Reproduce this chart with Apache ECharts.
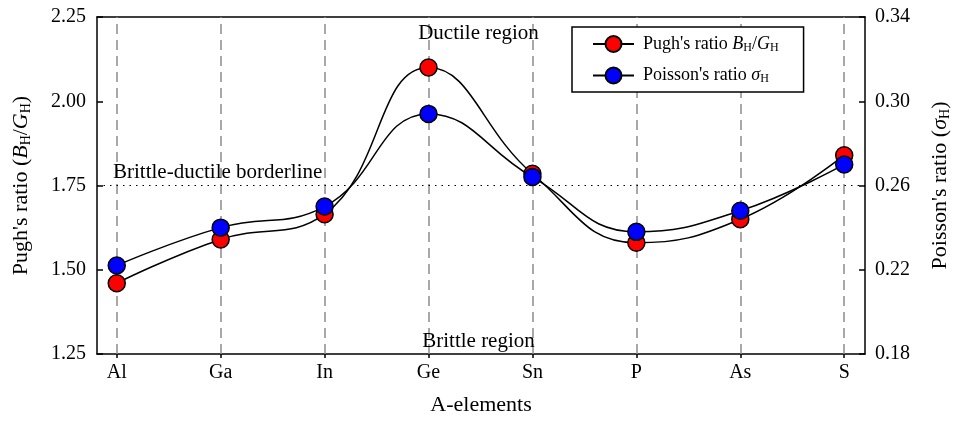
<!DOCTYPE html>
<html>
<head>
<meta charset="utf-8">
<script src="https://cdn.jsdelivr.net/npm/echarts@6/dist/echarts.min.js"></script>
<style>
  html, body { margin: 0; padding: 0; background: #fff; }
  #main { width: 957px; height: 428px; }
</style>
</head>
<body>
<div id="main"></div>
<script>
// A-elements along the x axis
var elements = ['Al', 'Ga', 'In', 'Ge', 'Sn', 'P', 'As', 'S'];
// Pugh's ratio B/G (left axis)
var pughRatio = [1.46, 1.59, 1.665, 2.10, 1.785, 1.58, 1.65, 1.84];
// Poisson's ratio (right axis)
var poissonRatio = [0.222, 0.240, 0.250, 0.294, 0.264, 0.238, 0.248, 0.270];
var borderline = 1.75;

var FONT = '"Liberation Serif", "DejaVu Serif", serif';
var chart = echarts.init(document.getElementById('main'));

function toPairs(arr) {
    return arr.map(function (v, i) { return [i, v]; });
}
var idx = elements.map(function (e, i) { return i; });

var legendRich = {
    i: { fontFamily: FONT, fontStyle: 'italic', fontSize: 18, color: '#000' },
    s: { fontFamily: FONT, fontSize: 12, color: '#000', padding: [7, 0, 0, 0] },
    n: { fontFamily: FONT, fontSize: 18, color: '#000' },
    f: { fontFamily: FONT, fontSize: 18, color: '#000', padding: [0, 0, 0, 4] }
};
var nameRich = {
    i: { fontFamily: FONT, fontStyle: 'italic', fontSize: 22, color: '#000' },
    s: { fontFamily: FONT, fontSize: 14, color: '#000', padding: [9, 0, 0, 0] },
    n: { fontFamily: FONT, fontSize: 22, color: '#000' }
};

var option = {
    animation: false,
    backgroundColor: '#fff',
    textStyle: { fontFamily: FONT },
    grid: { left: 97, right: 92, top: 17, bottom: 74, containLabel: false, outerBoundsMode: 'none' },
    legend: {
        left: 572, top: 27,
        orient: 'vertical',
        padding: [8, 25, 7, 20],
        itemWidth: 41, itemHeight: 20, itemGap: 13,
        backgroundColor: '#fff',
        borderColor: '#000', borderWidth: 1.5,
        textStyle: { rich: legendRich, fontFamily: FONT, fontSize: 18, color: '#000' },
        formatter: function (name) {
            if (name == 'pugh') return '{f|Pugh\'s ratio }{i|B}{s|H}{n|/}{i|G}{s|H}';
            return '{f|Poisson\'s ratio }{i|σ}{s|H}';
        },
        data: ['pugh', 'poisson']
    },
    xAxis: [{
        type: 'value',
        min: -0.19, max: 7.2,
        name: 'A-elements',
        nameLocation: 'middle', nameGap: 40,
        nameTextStyle: { fontFamily: FONT, fontSize: 22, color: '#000' },
        axisLine: { show: true, onZero: false, lineStyle: { color: '#000', width: 1.5 } },
        axisTick: { show: true, inside: false, length: 4, customValues: idx, lineStyle: { color: '#000', width: 1.5 } },
        axisLabel: {
            customValues: idx, margin: 9,
            fontFamily: FONT, fontSize: 20, color: '#000',
            formatter: function (v) { return elements[Math.round(v)]; }
        },
        splitLine: { show: false }
    }, {
        type: 'value', position: 'top',
        min: -0.19, max: 7.2,
        axisLine: { show: true, onZero: false, lineStyle: { color: '#000', width: 1.5 } },
        axisTick: { show: false }, axisLabel: { show: false }, splitLine: { show: false }
    }],
    yAxis: [{
        type: 'value', position: 'left',
        min: 1.25, max: 2.25, interval: 0.25,
        name: '{n|Pugh\'s ratio (}{i|B}{s|H}{n|/}{i|G}{s|H}{n|)}',
        nameLocation: 'middle', nameGap: 64,
        nameTextStyle: { rich: nameRich },
        axisLine: { show: true, onZero: false, lineStyle: { color: '#000', width: 1.5 } },
        axisTick: { show: true, inside: true, length: 6, lineStyle: { color: '#000', width: 1.5 } },
        axisLabel: {
            margin: 11, fontFamily: FONT, fontSize: 20, color: '#000',
            formatter: function (v) { return v.toFixed(2); }
        },
        splitLine: { show: false }
    }, {
        type: 'value', position: 'right',
        min: 0.18, max: 0.34, interval: 0.04,
        name: '{n|Poisson\'s ratio (}{i|σ}{s|H}{n|)}',
        nameLocation: 'middle', nameGap: 64,
        nameTextStyle: { rich: nameRich },
        axisLine: { show: true, onZero: false, lineStyle: { color: '#000', width: 1.5 } },
        axisTick: { show: true, inside: true, length: 6, lineStyle: { color: '#000', width: 1.5 } },
        axisLabel: {
            margin: 10, fontFamily: FONT, fontSize: 20, color: '#000',
            formatter: function (v) { return v.toFixed(2); }
        },
        splitLine: { show: false }
    }],
    graphic: [{
        type: 'text', left: 'center', top: 23, z: 100,
        style: { text: 'Ductile region', fontFamily: FONT, fontSize: 21, fill: '#000' }
    }, {
        type: 'text', left: 'center', top: 331, z: 100,
        style: { text: 'Brittle region', fontFamily: FONT, fontSize: 21, fill: '#000' }
    }],
    series: [{
        name: 'guides',
        type: 'line',
        data: [],
        z: 1,
        markLine: {
            silent: true,
            z: 1,
            symbol: 'none',
            animation: false,
            label: { show: false },
            lineStyle: { color: '#8c8c8c', width: 1.5, type: [10, 6] },
            data: idx.map(function (i) { return { xAxis: i }; })
        }
    }, {
        name: 'pugh',
        type: 'line',
        yAxisIndex: 0,
        data: toPairs(pughRatio),
        smooth: 0.45,
        z: 3,
        symbol: 'circle', symbolSize: 17,
        lineStyle: { color: '#000', width: 1.5 },
        itemStyle: { color: '#ff0000', borderColor: '#000', borderWidth: 1.5 },
        markLine: {
            silent: true,
            z: 1,
            symbol: 'none',
            lineStyle: { color: '#000', width: 1, type: [1.5, 5] },
            label: {
                show: true, position: 'insideStartTop', distance: [16, 3],
                fontFamily: FONT, fontSize: 21, color: '#000',
                formatter: 'Brittle-ductile borderline'
            },
            data: [{ yAxis: borderline }]
        }
    }, {
        name: 'poisson',
        type: 'line',
        yAxisIndex: 1,
        data: toPairs(poissonRatio),
        smooth: 0.45,
        z: 4,
        symbol: 'circle', symbolSize: 17,
        lineStyle: { color: '#000', width: 1.5 },
        itemStyle: { color: '#0000ff', borderColor: '#000', borderWidth: 1.5 }
    }]
};
chart.setOption(option);
</script>
</body>
</html>
